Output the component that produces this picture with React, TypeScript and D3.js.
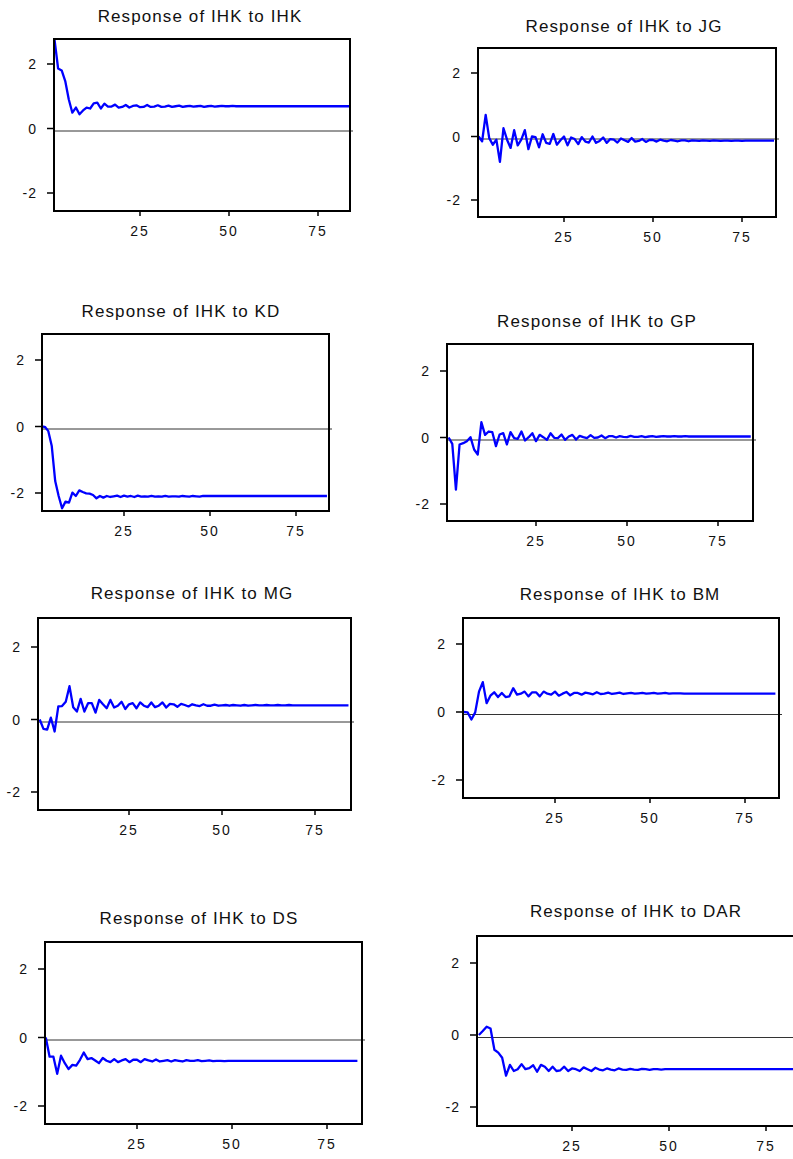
import React from "react";
import * as d3 from "d3";

// impulse responses of IHK (periods 1..n)
const respIHK = [
  2.75, 1.86, 1.8, 1.47, 0.9, 0.49, 0.65, 0.44, 0.56, 0.65,
  0.62, 0.78, 0.8, 0.62, 0.77, 0.68, 0.68, 0.74, 0.65, 0.67,
  0.73, 0.65, 0.7, 0.72, 0.66, 0.67, 0.73, 0.67, 0.68, 0.72,
  0.67, 0.68, 0.71, 0.67, 0.69, 0.71, 0.67, 0.69, 0.7, 0.68,
  0.69, 0.7, 0.67, 0.69, 0.7, 0.68, 0.69, 0.7, 0.69, 0.69,
  0.7, 0.69, 0.69, 0.69, 0.69, 0.69, 0.69, 0.69, 0.69, 0.69,
  0.69, 0.69, 0.69, 0.69, 0.69, 0.69, 0.69, 0.69, 0.69, 0.69,
  0.69, 0.69, 0.69, 0.69, 0.69, 0.69, 0.69, 0.69, 0.69, 0.69,
  0.69, 0.69, 0.69, 0.69,
];
const respJG = [
  0.0, -0.15, 0.68, -0.05, -0.26, -0.1, -0.8, 0.26, -0.1, -0.36,
  0.2, -0.28, -0.1, 0.2, -0.4, 0.0, -0.02, -0.34, 0.07, -0.2,
  -0.23, 0.08, -0.26, -0.12, 0.0, -0.28, -0.03, -0.08, -0.24, -0.02,
  -0.16, -0.19, 0.0, -0.2, -0.14, -0.03, -0.2, -0.08, -0.1, -0.19,
  -0.06, -0.12, -0.17, -0.05, -0.16, -0.14, -0.08, -0.17, -0.11, -0.11,
  -0.16, -0.1, -0.13, -0.15, -0.11, -0.13, -0.15, -0.12, -0.12, -0.15,
  -0.12, -0.13, -0.14, -0.12, -0.13, -0.14, -0.12, -0.13, -0.14, -0.13,
  -0.13, -0.14, -0.13, -0.13, -0.14, -0.13, -0.13, -0.13, -0.13, -0.13,
  -0.13, -0.13, -0.13, -0.13,
];
const respKD = [
  0.0, -0.01, -0.14, -0.59, -1.64, -2.09, -2.46, -2.26, -2.29, -1.99,
  -2.09, -1.92, -1.97, -2.01, -2.02, -2.06, -2.16, -2.09, -2.14, -2.09,
  -2.12, -2.1, -2.08, -2.12, -2.08, -2.11, -2.09, -2.12, -2.08, -2.11,
  -2.1, -2.11, -2.09, -2.11, -2.1, -2.11, -2.09, -2.11, -2.1, -2.1,
  -2.11, -2.09, -2.1, -2.11, -2.09, -2.1, -2.11, -2.09, -2.09, -2.09,
  -2.09, -2.09, -2.09, -2.09, -2.09, -2.09, -2.09, -2.09, -2.09, -2.09,
  -2.09, -2.09, -2.09, -2.09, -2.09, -2.09, -2.09, -2.09, -2.09, -2.09,
  -2.09, -2.09, -2.09, -2.09, -2.09, -2.09, -2.09, -2.09, -2.09, -2.09,
  -2.09, -2.09, -2.09, -2.09,
];
const respGP = [
  0.0, -0.19, -1.57, -0.21, -0.17, -0.11, 0.01, -0.36, -0.51, 0.46,
  0.08, 0.18, 0.16, -0.26, 0.09, 0.13, -0.21, 0.16, -0.02, -0.04,
  0.18, -0.09, 0.01, 0.13, -0.11, 0.08, 0.01, -0.07, 0.13, -0.01,
  -0.02, 0.09, -0.07, 0.03, 0.08, -0.06, 0.05, 0.01, -0.02, 0.07,
  -0.01, 0.0, 0.06, -0.02, 0.04, 0.04, 0.0, 0.04, 0.02, 0.01,
  0.05, 0.02, 0.02, 0.04, 0.01, 0.03, 0.04, 0.02, 0.03, 0.04,
  0.03, 0.03, 0.04, 0.03, 0.03, 0.04, 0.03, 0.03, 0.03, 0.03,
  0.03, 0.03, 0.03, 0.03, 0.03, 0.03, 0.03, 0.03, 0.03, 0.03,
  0.03, 0.03, 0.03, 0.03,
];
const respMG = [
  0.0, -0.26, -0.28, 0.05, -0.33, 0.36, 0.37, 0.49, 0.92, 0.34,
  0.22, 0.57, 0.22, 0.45, 0.45, 0.19, 0.54, 0.42, 0.31, 0.54,
  0.33, 0.38, 0.49, 0.29, 0.42, 0.45, 0.31, 0.47, 0.38, 0.34,
  0.47, 0.34, 0.38, 0.47, 0.33, 0.43, 0.42, 0.35, 0.43, 0.4,
  0.36, 0.42, 0.39, 0.37, 0.42, 0.38, 0.38, 0.41, 0.38, 0.39,
  0.4, 0.38, 0.4, 0.39, 0.38, 0.4, 0.38, 0.39, 0.4, 0.39,
  0.39, 0.4, 0.39, 0.39, 0.4, 0.39, 0.39, 0.4, 0.39, 0.39,
  0.39, 0.39, 0.39, 0.39, 0.39, 0.39, 0.39, 0.39, 0.39, 0.39,
  0.39, 0.39, 0.39, 0.39,
];
const respBM = [
  0.0, -0.01, -0.22, -0.01, 0.6, 0.88, 0.26, 0.48, 0.58, 0.44,
  0.56, 0.44, 0.46, 0.7, 0.51, 0.54, 0.6, 0.46, 0.58, 0.58,
  0.46, 0.6, 0.54, 0.51, 0.6, 0.48, 0.54, 0.59, 0.49, 0.56,
  0.56, 0.51, 0.57, 0.55, 0.52, 0.58, 0.53, 0.54, 0.57, 0.53,
  0.55, 0.57, 0.53, 0.55, 0.56, 0.54, 0.55, 0.56, 0.54, 0.55,
  0.56, 0.54, 0.55, 0.56, 0.54, 0.55, 0.55, 0.55, 0.54, 0.54,
  0.54, 0.54, 0.54, 0.54, 0.54, 0.54, 0.54, 0.54, 0.54, 0.54,
  0.54, 0.54, 0.54, 0.54, 0.54, 0.54, 0.54, 0.54, 0.54, 0.54,
  0.54, 0.54, 0.54,
];
const respDS = [
  0.0, -0.56, -0.56, -1.06, -0.53, -0.75, -0.92, -0.8, -0.82, -0.65,
  -0.44, -0.63, -0.6, -0.67, -0.75, -0.6, -0.68, -0.72, -0.63, -0.72,
  -0.67, -0.63, -0.72, -0.65, -0.65, -0.72, -0.63, -0.67, -0.7, -0.64,
  -0.7, -0.68, -0.66, -0.7, -0.66, -0.68, -0.7, -0.66, -0.68, -0.68,
  -0.66, -0.69, -0.68, -0.67, -0.69, -0.68, -0.68, -0.69, -0.68, -0.68,
  -0.68, -0.68, -0.68, -0.68, -0.68, -0.68, -0.68, -0.68, -0.68, -0.68,
  -0.68, -0.68, -0.68, -0.68, -0.68, -0.68, -0.68, -0.68, -0.68, -0.68,
  -0.68, -0.68, -0.68, -0.68, -0.68, -0.68, -0.68, -0.68, -0.68, -0.68,
  -0.68, -0.68, -0.68,
];
const respDAR = [
  0.0, 0.11, 0.23, 0.18, -0.41, -0.49, -0.63, -1.13, -0.83, -1.0,
  -0.95, -0.81, -0.95, -0.92, -0.84, -1.02, -0.83, -0.88, -1.0, -0.88,
  -1.0, -0.98, -0.88, -1.0, -0.93, -0.95, -1.0, -0.9, -0.95, -1.0,
  -0.91, -0.96, -0.98, -0.93, -0.96, -0.98, -0.93, -0.96, -0.97, -0.94,
  -0.96, -0.97, -0.94, -0.95, -0.97, -0.95, -0.95, -0.96, -0.95, -0.95,
  -0.95, -0.95, -0.95, -0.95, -0.95, -0.95, -0.95, -0.95, -0.95, -0.95,
  -0.95, -0.95, -0.95, -0.95, -0.95, -0.95, -0.95, -0.95, -0.95, -0.95,
  -0.95, -0.95, -0.95, -0.95, -0.95, -0.95, -0.95, -0.95, -0.95, -0.95,
  -0.95, -0.95, -0.95, -0.95,
];

const shocks = ["IHK", "JG", "KD", "GP", "MG", "BM", "DS", "DAR"];
const series = [respIHK, respJG, respKD, respGP, respMG, respBM, respDS, respDAR];
const xTicks = [25, 50, 75];
const yTicks = [-2, 0, 2];

// where each panel sits on the page: box edges, pixel of x=25/x=50, pixel of y=2/y=-2, title anchor
const layout = [
  { l: 54, t: 39, r: 350, b: 211, x25: 140, x50: 229, y2: 64, ym2: 193, tx: 200, ty: 22 },
  { l: 478, t: 48, r: 776, b: 217, x25: 564, x50: 653, y2: 73, ym2: 200, tx: 624, ty: 32 },
  { l: 42, t: 334, r: 329, b: 511, x25: 124, x50: 210, y2: 360, ym2: 493, tx: 181, ty: 317 },
  { l: 447, t: 344, r: 753, b: 521, x25: 536, x50: 627, y2: 371, ym2: 504, tx: 597, ty: 327 },
  { l: 38, t: 618, r: 351, b: 810, x25: 129, x50: 222, y2: 647, ym2: 792, tx: 192, ty: 599 },
  { l: 463, t: 618, r: 779, b: 798, x25: 555, x50: 650, y2: 644, ym2: 780, tx: 620, ty: 600 },
  { l: 45, t: 942, r: 362, b: 1124, x25: 137, x50: 232, y2: 969, ym2: 1106, tx: 199, ty: 924 },
  { l: 477, t: 936, r: 810, b: 1126, x25: 572, x50: 669, y2: 963, ym2: 1107, tx: 636, ty: 917 },
];

const font = "'Liberation Sans', Arial, sans-serif";

function Panel({ shock, values, box }) {
  const x = d3.scaleLinear().domain([25, 50]).range([box.x25, box.x50]);
  const y = d3.scaleLinear().domain([-2, 2]).range([box.ym2, box.y2]);
  const line = d3
    .line<number>()
    .x((_, i) => x(i + 1))
    .y((d) => y(d));

  return (
    <g>
      <text
        x={box.tx}
        y={box.ty}
        textAnchor="middle"
        fontSize={17}
        letterSpacing={1.1}
        fontFamily={font}
        fill="#111"
      >
        Response of IHK to {shock}
      </text>
      {/* zero reference line */}
      <line
        x1={box.l}
        x2={box.r + 3}
        y1={y(0) + 2.5}
        y2={y(0) + 2.5}
        stroke="#333"
        strokeWidth={1}
      />
      <path d={line(values) || ""} fill="none" stroke="#0000ff" strokeWidth={2.3} strokeLinejoin="round" />
      <rect
        x={box.l}
        y={box.t}
        width={box.r - box.l}
        height={box.b - box.t}
        fill="none"
        stroke="#000"
        strokeWidth={2}
      />
      {yTicks.map((v) => (
        <g key={"y" + v}>
          <line x1={box.l - 7} x2={box.l} y1={y(v)} y2={y(v)} stroke="#000" strokeWidth={1.5} />
          <text
            x={box.l - 17}
            y={y(v)}
            dy="0.36em"
            textAnchor="end"
            fontSize={14}
            letterSpacing={1}
            fontFamily={font}
            fill="#111"
          >
            {v}
          </text>
        </g>
      ))}
      {xTicks.map((v) => (
        <g key={"x" + v}>
          <line x1={x(v)} x2={x(v)} y1={box.b} y2={box.b + 5} stroke="#000" strokeWidth={1.5} />
          <text
            x={x(v)}
            y={box.b + 25}
            textAnchor="middle"
            fontSize={14}
            letterSpacing={2}
            fontFamily={font}
            fill="#111"
          >
            {v}
          </text>
        </g>
      ))}
    </g>
  );
}

export default function App() {
  return (
    <div style={{ position: "absolute", left: 0, top: 0 }}>
      <svg width={793} height={1159} style={{ display: "block", background: "#fff" }}>
        {shocks.map((s, i) => (
          <Panel key={s} shock={s} values={series[i]} box={layout[i]} />
        ))}
      </svg>
    </div>
  );
}
